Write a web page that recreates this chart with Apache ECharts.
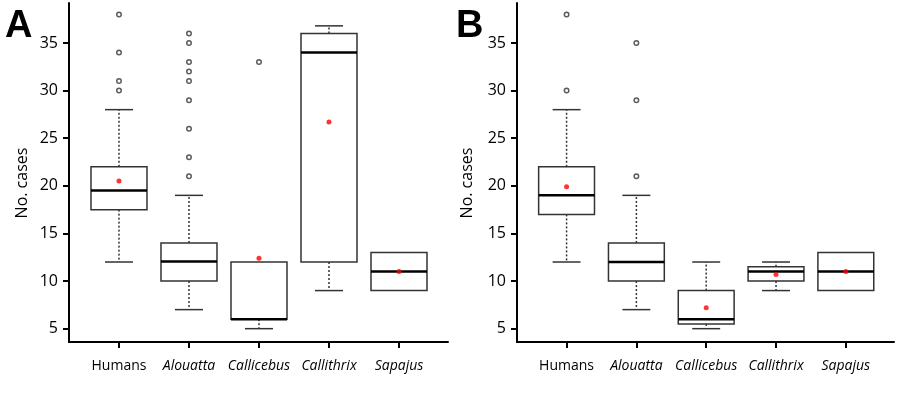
<!DOCTYPE html>
<html><head><meta charset="utf-8">
<script src="https://cdn.jsdelivr.net/npm/echarts@6/dist/echarts.min.js"></script>
<style>html,body{margin:0;padding:0;background:#fff}#c{width:900px;height:393px}</style>
</head><body><div id="c"></div>
<script>
const categories = ['Humans', 'Alouatta', 'Callicebus', 'Callithrix', 'Sapajus'];
const italicCats = [false, true, true, true, true];
const yTicks = [5, 10, 15, 20, 25, 30, 35];
// [lower whisker, Q1, median, Q3, upper whisker]
const boxA = [[12, 17.5, 19.5, 22, 28], [7, 10, 12.05, 14, 19], [5, 6, 6, 12, 12], [9, 12, 34, 36, 36.8], [9, 9, 11, 13, 13]];
const meanA = [20.5, null, 12.4, 26.7, 11];
const outliersA = [[38, 34, 31, 30], [36, 35, 33, 32, 31, 29, 26, 23, 21], [33], [], []];
const boxB = [[12, 17, 19, 22, 28], [7, 10, 12, 14, 19], [5, 5.5, 6, 9, 12], [9, 10, 11, 11.5, 12], [9, 9, 11, 13, 13]];
const meanB = [19.9, null, 7.2, 10.7, 11];
const outliersB = [[38, 30], [35, 29, 21], [], [], []];

const FONT = '"Open Sans", sans-serif';
const chart = echarts.init(document.getElementById('c'), null, {renderer: 'canvas'});

function renderBox(params, api) {
  const x = api.value(0), lo = api.value(1), q1 = api.value(2), med = api.value(3), q3 = api.value(4), hi = api.value(5);
  const hw = 0.4, cw = 0.2;
  const p = (a, b) => api.coord([a, b]);
  const ch = [];
  const lineStyle = {stroke: '#333', lineWidth: 1.5, fill: null};
  const dashStyle = {stroke: '#333', lineWidth: 1.5, lineDash: [2, 2], fill: null};
  if (hi > q3) {
    const a = p(x, q3), b = p(x, hi);
    ch.push({type: 'line', shape: {x1: a[0], y1: a[1], x2: b[0], y2: b[1]}, style: dashStyle});
    const c1 = p(x - cw, hi), c2 = p(x + cw, hi);
    ch.push({type: 'line', shape: {x1: c1[0], y1: c1[1], x2: c2[0], y2: c2[1]}, style: lineStyle});
  }
  if (lo < q1) {
    const a = p(x, q1), b = p(x, lo);
    ch.push({type: 'line', shape: {x1: a[0], y1: a[1], x2: b[0], y2: b[1]}, style: dashStyle});
    const c1 = p(x - cw, lo), c2 = p(x + cw, lo);
    ch.push({type: 'line', shape: {x1: c1[0], y1: c1[1], x2: c2[0], y2: c2[1]}, style: lineStyle});
  }
  const tl = p(x - hw, q3), br = p(x + hw, q1);
  ch.push({type: 'rect', shape: {x: tl[0], y: tl[1], width: br[0] - tl[0], height: br[1] - tl[1]}, style: {stroke: '#333', lineWidth: 1.5, fill: '#fff'}});
  const m1 = p(x - hw, med), m2 = p(x + hw, med);
  ch.push({type: 'line', shape: {x1: m1[0], y1: m1[1], x2: m2[0], y2: m2[1]}, style: {stroke: '#000', lineWidth: 2.5}});
  return {type: 'group', children: ch};
}

function xAxisCfg(idx, min, max) {
  return {
    type: 'value', gridIndex: idx, min: min, max: max,
    splitLine: {show: false},
    axisLine: {show: true, onZero: false, lineStyle: {color: '#000', width: 2}},
    axisTick: {show: true, length: 6, lineStyle: {color: '#000', width: 2}, customValues: [1, 2, 3, 4, 5]},
    axisLabel: {
      customValues: [1, 2, 3, 4, 5], margin: 17, fontSize: 14, color: '#000', fontFamily: FONT,
      formatter: v => { const i = Math.round(v) - 1; return italicCats[i] ? '{i|' + categories[i] + '}' : categories[i]; },
      rich: {i: {fontStyle: 'italic', fontSize: 14, color: '#000', fontFamily: FONT}}
    }
  };
}
function yAxisCfg(idx) {
  return {
    type: 'value', gridIndex: idx, min: 3.6, max: 39.2,
    splitLine: {show: false},
    axisLine: {show: true, onZero: false, lineStyle: {color: '#000', width: 2}},
    axisTick: {show: true, length: 6, lineStyle: {color: '#000', width: 2}, customValues: yTicks},
    axisLabel: {customValues: yTicks, margin: 11, fontSize: 16, color: '#000', fontFamily: FONT}
  };
}
function seriesFor(idx, box, mean, outl) {
  const boxData = box.map((b, i) => [i + 1].concat(b));
  const outData = [];
  outl.forEach((arr, i) => arr.forEach(v => outData.push([i + 1, v])));
  const meanData = [];
  mean.forEach((v, i) => { if (v !== null) meanData.push([i + 1, v]); });
  return [
    {type: 'custom', xAxisIndex: idx, yAxisIndex: idx, renderItem: renderBox, data: boxData, encode: {x: 0, y: [1, 2, 3, 4, 5]}, z: 2},
    {type: 'scatter', xAxisIndex: idx, yAxisIndex: idx, data: outData, symbol: 'circle', symbolSize: 4.5,
      itemStyle: {color: '#fff', borderColor: '#333', borderWidth: 1.5}, z: 3},
    {type: 'scatter', xAxisIndex: idx, yAxisIndex: idx, data: meanData, symbol: 'circle', symbolSize: 5,
      itemStyle: {color: '#f00'}, z: 4}
  ];
}

chart.setOption({
  animation: false,
  grid: [
    {left: 69, top: 3, width: 379, height: 339},
    {left: 517, top: 3, width: 377, height: 339}
  ],
  xAxis: [xAxisCfg(0, 0.286, 5.7), xAxisCfg(1, 0.29, 5.69)],
  yAxis: [yAxisCfg(0), yAxisCfg(1)],
  graphic: [
    {type: 'text', left: 5, top: 8, style: {text: 'A', font: 'bold 38px "Liberation Sans", Arial, sans-serif', fill: '#000'}},
    {type: 'text', left: 456, top: 8, style: {text: 'B', font: 'bold 38px "Liberation Sans", Arial, sans-serif', fill: '#000'}},
    {type: 'text', x: 22, y: 183, rotation: Math.PI / 2, style: {text: 'No. cases', font: '16px ' + FONT, fill: '#000', align: 'center', verticalAlign: 'middle'}},
    {type: 'text', x: 467, y: 183, rotation: Math.PI / 2, style: {text: 'No. cases', font: '16px ' + FONT, fill: '#000', align: 'center', verticalAlign: 'middle'}}
  ],
  series: seriesFor(0, boxA, meanA, outliersA).concat(seriesFor(1, boxB, meanB, outliersB))
});
</script></body></html>
